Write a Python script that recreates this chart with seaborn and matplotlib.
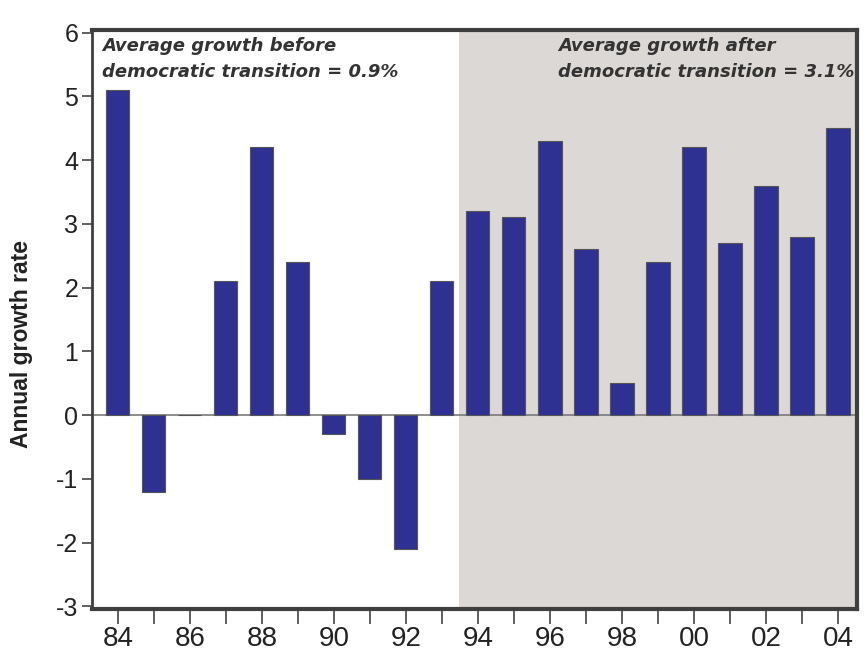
import matplotlib
matplotlib.use("Agg")
import matplotlib.pyplot as plt
import seaborn as sns
import pandas as pd

years = list(range(1984, 2005))
growth = [5.1, -1.2, 0.0, 2.1, 4.2, 2.4, -0.3, -1.0, -2.1, 2.1,
          3.2, 3.1, 4.3, 2.6, 0.5, 2.4, 4.2, 2.7, 3.6, 2.8, 4.5]
ylabel = "Annual growth rate"
note_before = "Average growth before\ndemocratic transition = 0.9%"
note_after = "Average growth after\ndemocratic transition = 3.1%"

sns.set_theme(style="white")
plt.rcParams['font.family'] = ['Liberation Sans', 'DejaVu Sans']

df = pd.DataFrame({"year": years, "growth": growth})

fig = plt.figure(figsize=(8.64, 6.53), dpi=100)
ax = fig.add_axes([0.1065, 0.0674, 0.8855, 0.8866])

ax.axvspan(1993.47, 2004.55, color="#DCD8D5", zorder=0, lw=0)
ax.axhline(0, color="#7a7a7a", lw=1.2, zorder=1)

sns.barplot(data=df, x="year", y="growth", native_scale=True, width=0.64,
            color="#2E3192", saturation=1, edgecolor="#555555", linewidth=0.8,
            ax=ax, zorder=2)

ax.set_xlim(1983.28, 2004.53)
ax.set_ylim(-3.04, 6.04)
ax.set_yticks(range(-3, 7))
ax.set_yticklabels([str(v) for v in range(-3, 7)], fontsize=18, color="#222222")
ax.set_xticks(years)
ax.set_xticklabels([f"{y % 100:02d}" if y % 2 == 0 else "" for y in years],
                   fontsize=20, color="#222222", family=['Liberation Sans Narrow', 'Liberation Sans'])
ax.tick_params(axis="y", direction="out", length=7, width=1.2, color="#444444", pad=3, left=True)
ax.tick_params(axis="x", direction="out", length=11, width=1.2, color="#444444", pad=1, bottom=True)
ax.set_xlabel("")
ax.set_ylabel(ylabel, fontsize=16.5, fontweight="bold", color="#222222")
ax.yaxis.set_label_coords(-0.077, 0.458)

for side, lw in [("left", 2.0), ("bottom", 3.0), ("top", 3.0), ("right", 3.0)]:
    ax.spines[side].set_visible(True)
    ax.spines[side].set_color("#3f3f3f")
    ax.spines[side].set_linewidth(lw)

note_font = dict(fontsize=13, fontweight="bold", fontstyle="italic",
                 family=["DejaVu Sans"], color="#333333", va="top", ha="left",
                 linespacing=1.6, zorder=5)
ax.text(1983.56, 5.93, note_before, **note_font)
ax.text(1996.22, 5.93, note_after, clip_on=True, **note_font)

fig.savefig("out.png", dpi=100)
